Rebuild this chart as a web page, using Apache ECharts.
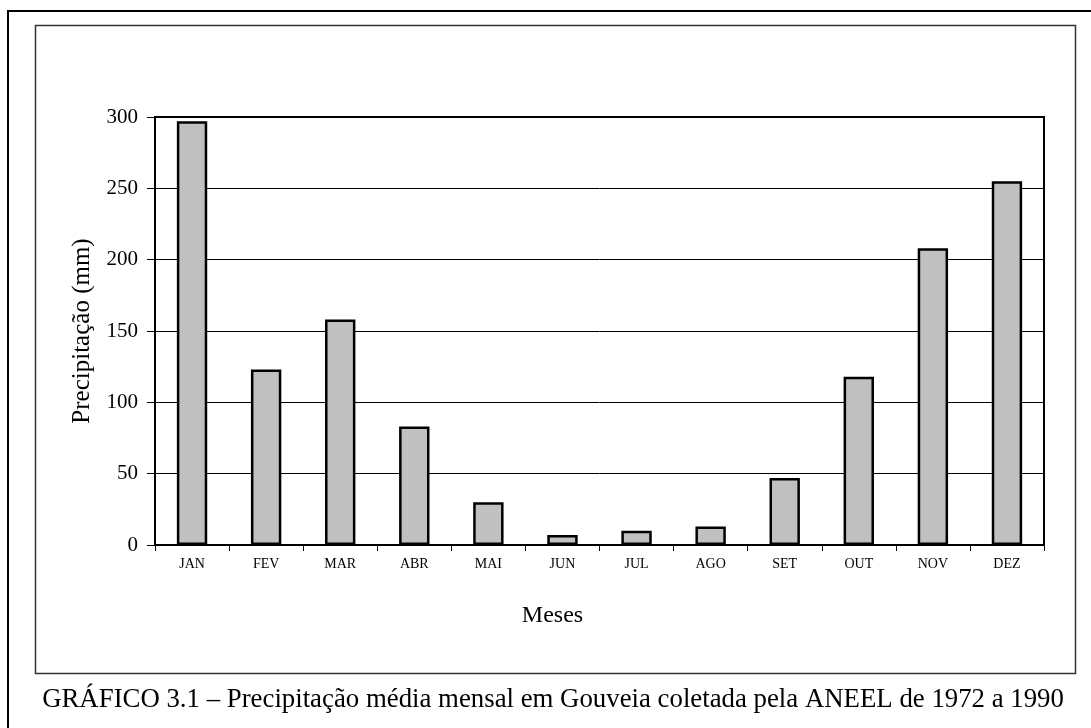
<!DOCTYPE html>
<html>
<head>
    <meta charset="utf-8">
    <script type="text/javascript" src="https://cdn.jsdelivr.net/npm/echarts@6/dist/echarts.min.js"></script>
    <style type="text/css">
        *{
            margin: 0;
            padding: 0;
        }
        #main{
            width: 1091px;
            height: 728px;
            background: #fff;
        }
    </style>
</head>
<body>
<div id="main"></div>
<script type="text/javascript">
    // dados
    var meses = ['JAN', 'FEV', 'MAR', 'ABR', 'MAI', 'JUN', 'JUL', 'AGO', 'SET', 'OUT', 'NOV', 'DEZ'];
    var precipitacao = [297, 123, 158, 83, 30, 7, 10, 13, 47, 118, 208, 255];
    var yTicks = [0, 50, 100, 150, 200, 250, 300];

    var fonte = '"Liberation Serif", "DejaVu Serif", serif';

    var myChart = echarts.init(document.getElementById('main'));
    var option = {
        animation: false,
        backgroundColor: '#fff',
        textStyle: { fontFamily: fonte, color: '#000' },
        grid: {
            left: 155,
            right: 1091 - 1044,
            top: 117,
            bottom: 728 - 545,
            show: true,
            borderColor: '#000',
            borderWidth: 2,
            containLabel: false
        },
        graphic: [
            {
                type: 'rect',
                shape: { x: 8, y: 11, width: 1100, height: 740 },
                style: { fill: 'none', stroke: '#000', lineWidth: 2 },
                silent: true
            },
            {
                type: 'rect',
                shape: { x: 35.5, y: 25.5, width: 1040, height: 648 },
                style: { fill: 'none', stroke: '#333', lineWidth: 1.5 },
                silent: true
            },
            {
                type: 'text',
                x: 553,
                y: 700,
                style: {
                    text: 'GRÁFICO 3.1 – Precipitação média mensal em Gouveia coletada pela ANEEL de 1972 a 1990',
                    font: '26.8px ' + fonte,
                    fill: '#000',
                    textAlign: 'center',
                    textVerticalAlign: 'middle'
                },
                silent: true
            }
        ],
        xAxis: {
            type: 'category',
            data: meses,
            name: 'Meses',
            nameLocation: 'middle',
            nameGap: 59,
            nameTextStyle: { fontSize: 24, fontFamily: fonte, color: '#000', padding: [0, 94, 0, 0] },
            axisLine: { lineStyle: { color: '#000', width: 2 } },
            axisTick: { show: true, length: 6, lineStyle: { color: '#000', width: 1 } },
            axisLabel: { fontSize: 14, margin: 12, color: '#000', fontFamily: fonte }
        },
        yAxis: {
            type: 'value',
            min: 0,
            max: 300,
            interval: 50,
            name: 'Precipitação (mm)',
            nameLocation: 'middle',
            nameGap: 60,
            nameTextStyle: { fontSize: 25, fontFamily: fonte, color: '#000' },
            axisLine: { show: true, lineStyle: { color: '#000', width: 2 } },
            axisTick: { show: true, length: 8, lineStyle: { color: '#000', width: 1 } },
            axisLabel: {
                fontSize: 21,
                margin: 17,
                color: '#000',
                fontFamily: fonte,
                formatter: function (v) { return yTicks.indexOf(v) >= 0 ? String(v) : ''; }
            },
            splitLine: { show: true, lineStyle: { color: '#000', width: 1 } }
        },
        series: [{
            type: 'bar',
            data: precipitacao,
            barWidth: '41%',
            itemStyle: {
                color: '#c0c0c0',
                borderColor: '#000',
                borderWidth: 2.5
            }
        }]
    };
    myChart.setOption(option);
</script>
</body>
</html>
